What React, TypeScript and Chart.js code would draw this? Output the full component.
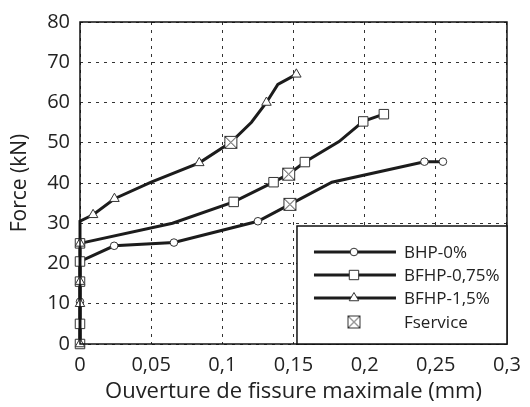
import React, { useEffect, useRef } from "react";
import { Chart, registerables } from "chart.js";
Chart.register(...registerables);

const xTickMax = 0.3;
const xTickStep = 0.05;
const yTickMax = 80;
const yTickStep = 10;

const seriesNames = ["BHP-0%", "BFHP-0,75%", "BFHP-1,5%", "Fservice"];

const bhpX = [0, 0, 0, 0.024, 0.066, 0.125, 0.1475, 0.177, 0.242, 0.255];
const bhpY = [0, 10.5, 20.5, 24.4, 25.2, 30.5, 34.7, 40.2, 45.3, 45.3];

const bfhp075X = [0, 0, 0, 0, 0, 0.065, 0.108, 0.136, 0.1466, 0.158, 0.182, 0.199, 0.2135];
const bfhp075Y = [0, 5, 15.5, 20.5, 25, 30, 35.3, 40.2, 42.2, 45.2, 50.3, 55.3, 57.1];

const bfhp15X = [0, 0, 0, 0, 0, 0.0092, 0.0242, 0.05, 0.0838, 0.106, 0.1205, 0.131, 0.139, 0.152];
const bfhp15Y = [0, 10, 15.5, 25, 30.5, 32.1, 36.1, 40.2, 45, 50.1, 55.1, 60, 64.5, 67];

const fserviceX = [0.106, 0.1466, 0.1475];
const fserviceY = [50.1, 42.2, 34.7];

const FONT = "'Open Sans', 'DejaVu Sans', sans-serif";
const LINE = "#1c1c1c";
const MARK = "#333";

const pts = (xs: number[], ys: number[]) => xs.map((x, i) => ({ x, y: ys[i] }));

function makeFserviceImage(): HTMLCanvasElement {
  const c = document.createElement("canvas");
  c.width = 15;
  c.height = 15;
  const g = c.getContext("2d")!;
  g.fillStyle = "#fff";
  g.fillRect(1, 1, 13, 13);
  g.strokeStyle = MARK;
  g.lineWidth = 1;
  g.strokeRect(1.5, 1.5, 12, 12);
  g.beginPath();
  g.moveTo(1.5, 1.5);
  g.lineTo(13.5, 13.5);
  g.moveTo(13.5, 1.5);
  g.lineTo(1.5, 13.5);
  g.stroke();
  return c;
}

const fmt = (v: number) => String(Number(v.toFixed(2))).replace(".", ",");

export default function App() {
  const ref = useRef<HTMLCanvasElement>(null);
  useEffect(() => {
    const img = makeFserviceImage();
    const frameLegend = {
      id: "frameLegend",
      afterDraw(chart: any) {
        const { ctx, chartArea: a } = chart;
        ctx.save();
        ctx.strokeStyle = "#111";
        ctx.lineWidth = 1.5;
        ctx.setLineDash([]);
        ctx.strokeRect(a.left, a.top, a.right - a.left, a.bottom - a.top);
        const bx = a.right - 210;
        const by = a.bottom - 118;
        ctx.fillStyle = "#fff";
        ctx.fillRect(bx, by, a.right - bx, a.bottom - by);
        ctx.strokeRect(bx, by, a.right - bx, a.bottom - by);
        const rows = [by + 26, by + 49, by + 72, by + 96];
        const lx1 = bx + 17, lx2 = bx + 99, mx = bx + 57, tx = bx + 107;
        ctx.font = `17px ${FONT}`;
        ctx.textBaseline = "middle";
        ctx.textAlign = "left";
        for (let i = 0; i < 4; i++) {
          const y = rows[i];
          if (i < 3) {
            ctx.strokeStyle = LINE;
            ctx.lineWidth = 3;
            ctx.beginPath();
            ctx.moveTo(lx1, y);
            ctx.lineTo(lx2, y);
            ctx.stroke();
            ctx.fillStyle = "#fff";
            ctx.strokeStyle = MARK;
            ctx.lineWidth = 1;
            ctx.beginPath();
            if (i === 0) ctx.arc(mx, y, 3.8, 0, Math.PI * 2);
            else if (i === 1) ctx.rect(mx - 4.7, y - 4.7, 9.4, 9.4);
            else {
              const r = 5.5;
              ctx.moveTo(mx, y - r);
              ctx.lineTo(mx + r * Math.sin(2.0944), y - r * Math.cos(2.0944));
              ctx.lineTo(mx + r * Math.sin(4.1888), y - r * Math.cos(4.1888));
              ctx.closePath();
            }
            ctx.fill();
            ctx.stroke();
          } else {
            ctx.drawImage(img, mx - 7.5, y - 7.5);
          }
          ctx.fillStyle = "#222";
          ctx.fillText(seriesNames[i], tx, y + 1);
        }
        ctx.restore();
      },
    };

    const common = {
      showLine: true,
      borderColor: LINE,
      borderWidth: 3,
      backgroundColor: "#fff",
      pointBackgroundColor: "#fff",
      pointBorderColor: MARK,
      pointBorderWidth: 1,
      fill: false,
      tension: 0,
      clip: false,
    };

    const chart = new Chart(ref.current!, {
      type: "scatter",
      data: {
        datasets: [
          {
            label: seriesNames[3],
            data: pts(fserviceX, fserviceY),
            showLine: false,
            pointStyle: img as any,
            pointRadius: 7.5,
            clip: false,
            order: 0,
          } as any,
          {
            ...common,
            label: seriesNames[0],
            data: pts(bhpX, bhpY),
            pointStyle: "circle",
            pointRadius: [3.8, 3.8, 0, 3.8, 3.8, 3.8, 0, 0, 3.8, 3.8],
            order: 3,
          },
          {
            ...common,
            label: seriesNames[1],
            data: pts(bfhp075X, bfhp075Y),
            pointStyle: "rect",
            pointRadius: [6.7, 6.7, 6.7, 6.7, 6.7, 0, 6.7, 6.7, 0, 6.7, 0, 6.7, 6.7],
            order: 2,
          },
          {
            ...common,
            label: seriesNames[2],
            data: pts(bfhp15X, bfhp15Y),
            pointStyle: "triangle",
            pointRadius: [5.5, 5.5, 5.5, 5.5, 0, 5.5, 5.5, 0, 5.5, 0, 0, 5.5, 0, 5.5],
            order: 1,
          },
        ],
      },
      options: {
        animation: false,
        responsive: true,
        maintainAspectRatio: false,
        layout: { padding: { left: 0, top: 14, right: 17, bottom: 0 } },
        plugins: { legend: { display: false }, tooltip: { enabled: false } },
        scales: {
          x: {
            type: "linear",
            min: 0,
            max: xTickMax,
            afterFit: (s: any) => {
              s.height = 63;
            },
            ticks: {
              stepSize: xTickStep,
              padding: 9,
              color: "#222",
              font: { family: FONT, size: 20 },
              callback: (v: any) => fmt(Number(v)),
              maxRotation: 0,
            },
            grid: { color: "#333", lineWidth: 1, drawTicks: false },
            border: { display: false, dash: [3, 5] },
            title: {
              display: true,
              text: "Ouverture de fissure maximale (mm)",
              color: "#222",
              font: { family: FONT, size: 22 },
              padding: { top: 0, bottom: 2 },
            },
          },
          y: {
            type: "linear",
            min: 0,
            max: yTickMax,
            afterFit: (s: any) => {
              s.width = 80;
            },
            ticks: {
              stepSize: yTickStep,
              padding: 10,
              color: "#222",
              font: { family: FONT, size: 20 },
            },
            grid: { color: "#333", lineWidth: 1, drawTicks: false },
            border: { display: false, dash: [3, 5] },
            title: {
              display: true,
              text: "Force (kN)",
              color: "#222",
              font: { family: FONT, size: 21 },
              padding: { top: 7, bottom: 0 },
            },
          },
        },
      },
      plugins: [frameLegend],
    } as any);
    return () => chart.destroy();
  }, []);

  return (
    <div style={{ position: "fixed", left: 0, top: 0, width: 530, height: 407, background: "#fff" }}>
      <canvas ref={ref} />
    </div>
  );
}
